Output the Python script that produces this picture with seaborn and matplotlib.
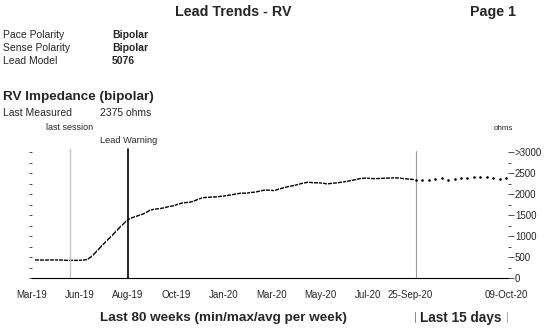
import numpy as np
import pandas as pd
import matplotlib
matplotlib.use("Agg")
import matplotlib.pyplot as plt
import matplotlib.transforms as mtransforms
import seaborn as sns

# Weekly average RV impedance (ohms), last 80 weeks
weekly_ohms = [
    430, 430, 425, 430, 430, 430, 425, 420, 420, 420, 425, 440,
    520, 640, 760, 880, 990, 1110, 1230, 1340,
    1420, 1460, 1500, 1540, 1610, 1640, 1650, 1670, 1700, 1720,
    1760, 1790, 1800, 1820, 1870, 1910, 1920, 1925, 1935, 1945,
    1960, 1980, 2000, 2020, 2020, 2035, 2045, 2070, 2095, 2090,
    2080, 2120, 2150, 2180, 2200, 2230, 2260, 2280, 2270, 2265,
    2260, 2240, 2255, 2265, 2280, 2300, 2320, 2345, 2370, 2380,
    2370, 2365, 2370, 2375, 2380, 2385, 2380, 2365, 2355, 2345,
]
# Daily RV impedance (ohms), last 15 days
daily_ohms = [2340, 2325, 2340, 2357, 2373, 2325, 2357, 2373,
              2389, 2397, 2405, 2397, 2381, 2357, 2375]

week_tick_labels = ["Mar-19", "", "Jun-19", "", "Aug-19", "", "Oct-19", "",
                    "Jan-20", "", "Mar-20", "", "May-20", "", "Jul-20", ""]
first_day_label = "25-Sep-20"
last_day_label = "09-Oct-20"
last_session_week = 7.9
lead_warning_week = 20
y_ticks = [0, 500, 1000, 1500, 2000, 2500, 3000]
y_tick_labels = ["0", "500", "1000", "1500", "2000", "2500", ">3000"]

sns.set_style("white")
plt.rcParams["font.family"] = ["Liberation Sans", "DejaVu Sans"]

W, H = 553, 336
fig = plt.figure(figsize=(W / 100, H / 100), dpi=100)


def fx(x):
    return x / W


def fy(y):
    return 1 - y / H


ax1 = fig.add_axes([fx(32), fy(278), (416 - 32) / W, (278 - 152) / H])
ax2 = fig.add_axes([fx(416), fy(278), (508 - 416) / W, (278 - 152) / H])

# each weekly average sits in the middle of its week
weekly = pd.DataFrame({"week": np.arange(len(weekly_ohms)) + 0.5,
                       "ohms": weekly_ohms})
daily = pd.DataFrame({"day": np.arange(len(daily_ohms)), "ohms": daily_ohms})

sns.lineplot(data=weekly, x="week", y="ohms", ax=ax1, color="black", lw=1.0,
             marker="|", markersize=3, markeredgewidth=0.8, clip_on=False)
sns.scatterplot(data=daily, x="day", y="ohms", ax=ax2, color="black", s=3.5,
                linewidth=0, clip_on=False)

for ax in (ax1, ax2):
    ax.set_ylim(0, 3000)
    ax.set_xlabel("")
    ax.set_ylabel("")
    ax.patch.set_alpha(0)
    for side in ("top", "left", "right"):
        ax.spines[side].set_visible(False)
    ax.spines["bottom"].set_color("black")
    ax.spines["bottom"].set_linewidth(0.8)
    ax.tick_params(axis="x", direction="out", length=3.5, width=0.6,
                   color="#333333", labelsize=7, pad=5)

ax1.set_xlim(0, len(weekly_ohms))
ax1.set_xticks(np.arange(0, 80, 5))
ax1.set_xticklabels(week_tick_labels)
ax1.set_yticks(np.arange(0, 3001, 250))
ax1.set_yticklabels([])
ax1.tick_params(axis="y", left=True, direction="out", length=2.5, width=0.6,
                color="#333333")

ax2.set_xlim(0, 14.3)
ax2.set_xticks(np.arange(len(daily_ohms)))
day_labels = [""] * len(daily_ohms)
day_labels[0] = first_day_label
day_labels[-1] = last_day_label
ax2.set_xticklabels(day_labels)
first_lbl = ax2.get_xticklabels()[0]
first_lbl.set_transform(first_lbl.get_transform() +
                        mtransforms.ScaledTranslation(-0.06, 0, fig.dpi_scale_trans))
ax2.yaxis.tick_right()
ax2.set_yticks(y_ticks)
ax2.set_yticklabels(y_tick_labels)
ax2.set_yticks(np.arange(250, 3000, 500), minor=True)
ax2.tick_params(axis="y", which="major", right=True, direction="out", length=4,
                width=0.6, color="#333333", labelsize=7, pad=1)
ax2.tick_params(axis="y", which="minor", right=True, direction="out", length=2,
                width=0.6, color="#333333")

# event markers
ax1.axvline(last_session_week, ymax=1.02, color="#c4c4c4", lw=1.0, clip_on=False)
ax1.axvline(lead_warning_week, ymax=1.02, color="black", lw=1.2, clip_on=False)
ax2.axvline(0, ymax=1.01, color="#9a9a9a", lw=0.8, clip_on=False, zorder=0)

# header block
fig.text(fx(233), fy(12), "Lead Trends - RV", ha="center", va="center",
         fontsize=10.3, fontweight="bold")
fig.text(fx(493), fy(12), "Page 1", ha="center", va="center",
         fontsize=10.3, fontweight="bold")
rows = [("Pace Polarity", "Bipolar"), ("Sense Polarity", "Bipolar"),
        ("Lead Model", "5076")]
for i, (name, val) in enumerate(rows):
    y = fy(35 + 13 * i)
    fig.text(fx(3), y, name, ha="left", va="center", fontsize=7.5)
    fig.text(fx(112), y, val, ha="left", va="center", fontsize=7.5,
             fontweight="bold")

fig.text(fx(3), fy(97), "RV Impedance (bipolar)", ha="left", va="center",
         fontsize=9.7, fontweight="bold")
fig.text(fx(3), fy(113.5), "Last Measured", ha="left", va="center", fontsize=7.5)
fig.text(fx(100), fy(113.5), "2375 ohms", ha="left", va="center", fontsize=7.5)
fig.text(fx(70), fy(127), "last session", ha="center", va="center", fontsize=6.5)
fig.text(fx(129), fy(140), "Lead Warning", ha="center", va="center", fontsize=6.7)
fig.text(fx(503), fy(129), "ohms", ha="center", va="center", fontsize=5.8)

fig.text(fx(223), fy(318), "Last 80 weeks (min/max/avg per week)", ha="center",
         va="center", fontsize=9.7, fontweight="bold")
fig.text(fx(461), fy(318), "Last 15 days", ha="center", va="center",
         fontsize=9.8, fontweight="bold")
fig.add_artist(plt.Line2D([fx(415), fx(415)], [fy(312), fy(322)],
                          color="#888888", lw=0.7))
fig.add_artist(plt.Line2D([fx(507), fx(507)], [fy(312), fy(322)],
                          color="#aaaaaa", lw=0.7))

fig.savefig("out.png", dpi=100, facecolor="white")
